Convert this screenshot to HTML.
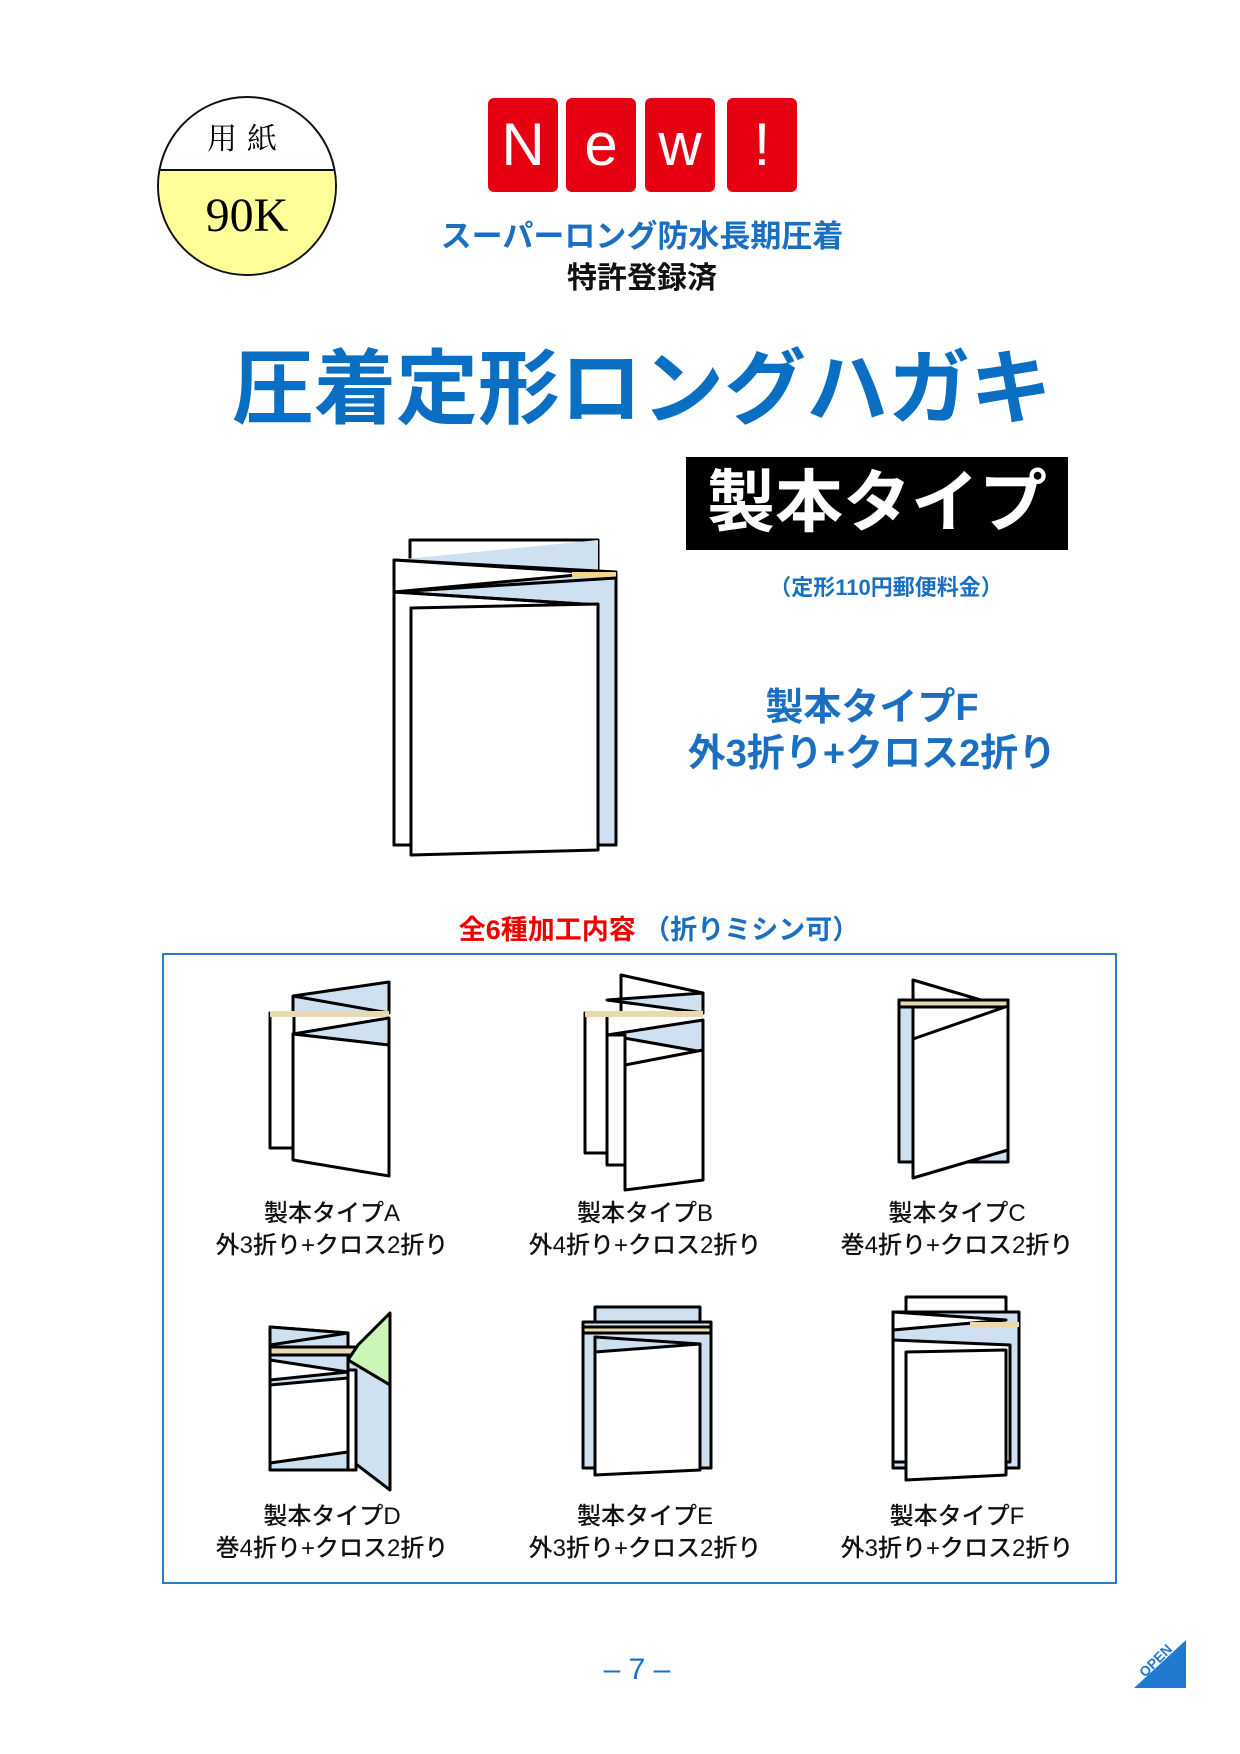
<!DOCTYPE html>
<html><head><meta charset="utf-8"><style>
html,body{margin:0;padding:0;background:#fff}
body{width:1240px;height:1754px;position:relative;overflow:hidden;font-family:"Liberation Sans","Noto Sans CJK JP",sans-serif}
.t{position:absolute;white-space:nowrap;text-align:center;font-weight:bold}
.nb{position:absolute;top:98px;width:70px;height:94px;background:#e60012;border-radius:6px;color:#fff;font-size:60px;line-height:94px;text-align:center;font-family:"Liberation Sans",sans-serif}
.lab{position:absolute;width:300px;text-align:center;font-size:24px;line-height:32px;color:#111;font-weight:500}
</style></head><body>
<div style="position:absolute;left:157px;top:96px;width:176px;height:176px;border:2px solid #111;border-radius:50%;overflow:hidden;background:#fff">
 <div style="position:absolute;left:0;top:71px;width:100%;height:110px;background:#ffff99;border-top:2px solid #111"></div>
 <div style="position:absolute;left:0;top:16px;width:100%;text-align:center;font-size:30px;font-family:'Noto Serif CJK SC',serif;letter-spacing:10px">用紙</div>
 <div style="position:absolute;left:0;top:90px;width:100%;text-align:center;font-size:48px;font-family:'Liberation Serif',serif">90K</div>
</div>
<div class="nb" style="left:488px">N</div>
<div class="nb" style="left:566px">e</div>
<div class="nb" style="left:645px">w</div>
<div class="nb" style="left:727px">!</div>
<div class="t" style="left:342px;width:600px;top:211px;font-size:31px;color:#1a6fc0">スーパーロング防水長期圧着</div>
<div class="t" style="left:342px;width:600px;top:253px;font-size:30px;color:#111">特許登録済</div>
<div class="t" style="left:200px;width:884px;top:340px;font-size:82px;color:#0a6fc2;line-height:100px">圧着定形ロングハガキ</div>
<div style="position:absolute;left:686px;top:457px;width:382px;height:93px;background:#000;color:#fff;font-size:68px;line-height:93px;text-align:center;font-weight:bold">製本タイプ</div>
<div class="t" style="left:736px;width:300px;top:570px;font-size:22px;color:#1a6fc0">（定形110円郵便料金）</div>
<div class="t" style="left:622px;width:500px;top:676px;font-size:38px;color:#1a6fc0">製本タイプF</div>
<div class="t" style="left:622px;width:500px;top:722px;font-size:38px;color:#1a6fc0">外3折り+クロス2折り</div>
<div class="t" style="left:359px;width:600px;top:908px;font-size:27px"><span style="color:#e00">全6種加工内容</span> <span style="color:#1a6fc0">（折りミシン可）</span></div>
<div style="position:absolute;left:162px;top:953px;width:951px;height:627px;border:2px solid #2b7cc8"></div>

<div class="lab" style="left:182px;top:1198px">製本タイプA<br>外3折り+クロス2折り</div>
<div class="lab" style="left:495px;top:1198px">製本タイプB<br>外4折り+クロス2折り</div>
<div class="lab" style="left:807px;top:1198px">製本タイプC<br>巻4折り+クロス2折り</div>
<div class="lab" style="left:182px;top:1501px">製本タイプD<br>巻4折り+クロス2折り</div>
<div class="lab" style="left:495px;top:1501px">製本タイプE<br>外3折り+クロス2折り</div>
<div class="lab" style="left:807px;top:1501px">製本タイプF<br>外3折り+クロス2折り</div>

<div class="t" style="left:537px;width:200px;top:1653px;font-size:30px;color:#1a6fc0;font-weight:normal">– 7 –</div>

<svg width="1240" height="1754" style="position:absolute;left:0;top:0" stroke="#000" stroke-width="3" stroke-linejoin="round">
<g>
 <polygon points="410,540 598,540 598,575 410,575" fill="#fff"/>
 <polygon points="394,560 598,540 598,575" fill="#cfe0f1" stroke="none"/>
 <polygon points="394,560 616,572 616,845 394,845" fill="#cfe0f1"/>
 <polygon points="394,560 598,573 394,592" fill="#fff"/>
 <rect x="572" y="572" width="44" height="6" fill="#f5d48e" stroke="none"/>
 <polygon points="394,592 616,578 616,845 394,845" fill="#cfe0f1"/>
 <polygon points="394,592 598,605 598,608 411,608 411,845 394,845" fill="#fff"/>
 <line x1="394" y1="592" x2="598" y2="605"/>
 <line x1="394" y1="560" x2="394" y2="845"/>
 <polygon points="411,608 598,604 598,850 411,855" fill="#fff"/>
</g>
<g>
 <rect x="270" y="1013" width="24" height="135" fill="#fff"/>
 <polygon points="293,996 389,982 389,1013 293,1013" fill="#cfe0f1"/>
 <polyline points="293,996 389,1013" fill="none"/>
 <rect x="270" y="1011" width="119" height="6" fill="#e8d9b0" stroke="none"/>
 <polygon points="293,1034 389,1018 389,1045" fill="#cfe0f1"/>
 <polygon points="293,1034 389,1045 389,1176 293,1160" fill="#fff"/>
</g>
<g>
 <rect x="585" y="1013" width="22" height="140" fill="#fff"/>
 <polygon points="621,975 703,993 703,1013 621,1013" fill="#fff"/>
 <polygon points="607,1000 703,993 703,1013" fill="#cfe0f1"/>
 <rect x="585" y="1011" width="118" height="6" fill="#e8d9b0" stroke="none"/>
 <polygon points="607,1035 703,1020 703,1052" fill="#cfe0f1"/>
 <rect x="607" y="1035" width="18" height="130" fill="#fff"/>
 <polygon points="625,1065 703,1050 703,1180 625,1190" fill="#fff"/>
</g>
<g>
 <rect x="899" y="1000" width="109" height="162" fill="#cfe0f1"/>
 <polygon points="913,980 1008,1008 913,1068" fill="#fff"/>
 <rect x="899" y="1000" width="109" height="7" fill="#e8d9b0"/>
 <polygon points="913,1039 1008,1006 1008,1150 913,1178" fill="#fff"/>
</g>
<g>
 <polygon points="270,1327 348,1333 348,1470 270,1470" fill="#cfe0f1"/>
 <polygon points="270,1327 348,1333 270,1345" fill="#cfe0f1"/>
 <rect x="270" y="1347" width="85" height="8" fill="#e8d9b0"/>
 <polygon points="270,1360 348,1372 270,1380" fill="#fff"/>
 <polygon points="348,1360 358,1345 390,1313 390,1385" fill="#ccf5b8"/>
 <polygon points="348,1360 390,1385 390,1490 348,1458" fill="#cfe0f1"/>
 <rect x="348" y="1370" width="8" height="100" fill="#fff"/>
 <polygon points="270,1385 348,1378 348,1452 270,1463" fill="#fff"/>
</g>
<g>
 <rect x="595" y="1307" width="105" height="20" fill="#cfe0f1"/>
 <rect x="583" y="1322" width="128" height="146" fill="#cfe0f1"/>
 <rect x="583" y="1327" width="128" height="6" fill="#e8d9b0"/>
 <polygon points="595,1337 700,1344 700,1450 595,1450" fill="#cfe0f1"/>
 <polygon points="595,1352 700,1344 700,1470 595,1475" fill="#fff"/>
</g>
<g>
 <rect x="906" y="1297" width="100" height="30" fill="#fff"/>
 <rect x="893" y="1312" width="126" height="156" fill="#cfe0f1"/>
 <polygon points="893,1312 1006,1320 893,1330" fill="#fff"/>
 <rect x="970" y="1322" width="49" height="5" fill="#e8d9b0" stroke="none"/>
 <polygon points="893,1340 1010,1345 1010,1462 893,1462" fill="#fff"/>
 <polygon points="906,1352 1006,1350 1006,1475 906,1480" fill="#fff"/>
</g>
<polygon points="1186,1640 1186,1688 1134,1688" fill="#1f7ad0" stroke="none"/>
<text x="1145" y="1678" transform="rotate(-45 1145 1678)" font-family="Liberation Sans" font-size="14" font-weight="bold" fill="#1f7ad0" stroke="none">OPEN</text>
</svg>
</body></html>
